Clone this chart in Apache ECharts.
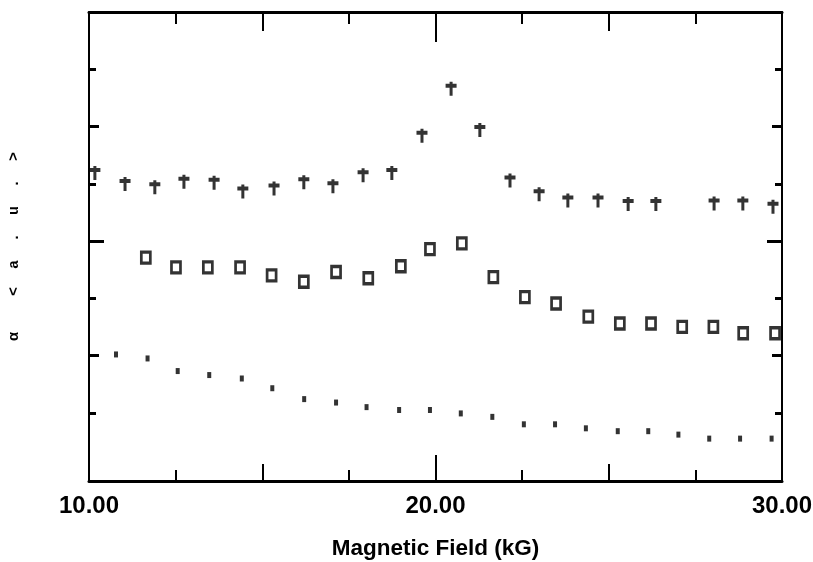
<!DOCTYPE html>
<html>
<head>
<meta charset="utf-8">
<script src="https://cdn.jsdelivr.net/npm/echarts@6/dist/echarts.min.js"></script>
<style>html,body{margin:0;padding:0;background:#fff;}#chart{width:813px;height:562px;}</style>
</head>
<body>
<div id="chart"></div>
<script>
// ---- data (y in arbitrary units, one unit per y tick) ----
var crossX = [10.17, 11.04, 11.90, 12.74, 13.61, 14.44, 15.34, 16.20, 17.04, 17.91, 18.74, 19.61, 20.45, 21.28, 22.15, 22.99, 23.82, 24.69, 25.56, 26.36, 28.04, 28.87, 29.74];
var crossY = [5.24, 5.05, 4.99, 5.09, 5.07, 4.92, 4.97, 5.08, 5.01, 5.20, 5.24, 5.89, 6.71, 5.99, 5.11, 4.87, 4.76, 4.76, 4.70, 4.70, 4.71, 4.71, 4.65];
var squareX = [11.64, 12.51, 13.43, 14.36, 15.27, 16.20, 17.13, 18.06, 19.00, 19.84, 20.76, 21.67, 22.58, 23.48, 24.41, 25.32, 26.22, 27.12, 28.02, 28.88, 29.80];
var squareY = [3.71, 3.54, 3.54, 3.54, 3.40, 3.29, 3.46, 3.35, 3.56, 3.86, 3.96, 3.37, 3.02, 2.91, 2.68, 2.56, 2.56, 2.50, 2.50, 2.39, 2.39];
var dotX = [10.78, 11.69, 12.56, 13.47, 14.41, 15.29, 16.21, 17.13, 18.01, 18.95, 19.84, 20.73, 21.64, 22.55, 23.45, 24.34, 25.26, 26.14, 27.01, 27.90, 28.79, 29.70];
var dotY = [2.02, 1.95, 1.73, 1.66, 1.60, 1.43, 1.24, 1.18, 1.10, 1.05, 1.05, 0.99, 0.93, 0.80, 0.80, 0.73, 0.68, 0.68, 0.62, 0.55, 0.55, 0.55];
var xTitle = 'Magnetic Field (kG)';
var yTitle = 'α    <  a  .  u  .  >';
var xMin = 10, xMax = 30;
var yMin = -0.19, yMax = 8;
var yTicksAll = [1, 2, 3, 4, 5, 6, 7];
var yTicksMid = [2, 6];
var yTicksLong = [4];

function pairs(xs, ys) { return xs.map(function (x, i) { return [x, ys[i]]; }); }

var labelFont = "'Liberation Sans Narrow', 'Liberation Sans', Arial, sans-serif";

function xAx(pos, interval, len, main) {
  return {
    type: 'value', position: pos, min: xMin, max: xMax, interval: interval,
    axisLine: { show: !!main, onZero: false, lineStyle: { color: '#000', width: 3 } },
    axisTick: { show: true, inside: true, length: len, lineStyle: { color: '#000', width: 2 } },
    axisLabel: (main && pos === 'bottom') ? {
      show: true, margin: 13, color: '#000', fontFamily: labelFont, fontWeight: 'bold', fontSize: 24,
      formatter: function (v) { return v.toFixed(2); }
    } : { show: false },
    splitLine: { show: false },
    name: (main && pos === 'bottom') ? xTitle : '',
    nameLocation: 'middle', nameGap: 56,
    nameTextStyle: { color: '#000', fontFamily: labelFont, fontWeight: 'bold', fontSize: 22.5 }
  };
}
function yAx(pos, ticks, len, main) {
  return {
    type: 'value', position: pos, min: yMin, max: yMax,
    axisLine: { show: !!main, onZero: false, lineStyle: { color: '#000', width: 2 } },
    axisTick: { show: true, inside: true, length: len, customValues: ticks, lineStyle: { color: '#000', width: 3 } },
    axisLabel: { show: false },
    splitLine: { show: false },
    name: (main && pos === 'left') ? yTitle : '',
    nameLocation: 'middle', nameRotate: 90, nameGap: 67,
    nameTextStyle: { color: '#000', fontFamily: 'Liberation Mono', fontWeight: 'bold', fontSize: 15 }
  };
}

var chart = echarts.init(document.getElementById('chart'));
chart.setOption({
  animation: false,
  backgroundColor: '#fff',
  grid: { left: 89, right: 31, top: 12, bottom: 81, containLabel: false, outerBoundsMode: 'none' },
  xAxis: [
    xAx('bottom', 10, 26, true), xAx('bottom', 5, 17, false), xAx('bottom', 2.5, 11, false),
    xAx('top', 10, 30, true), xAx('top', 5, 19, false), xAx('top', 2.5, 12, false)
  ],
  yAxis: [
    yAx('left', yTicksAll, 7, true), yAx('left', yTicksMid, 10, false), yAx('left', yTicksLong, 15, false),
    yAx('right', yTicksAll, 7, true), yAx('right', yTicksMid, 10, false), yAx('right', yTicksLong, 15, false)
  ],
  series: [
    {
      type: 'scatter', xAxisIndex: 0, yAxisIndex: 0, data: pairs(crossX, crossY),
      symbol: 'path://M4,0H7V2H11V6H7V14H4V6H0V2H4Z', symbolSize: [11, 14], symbolOffset: [0, 3],
      itemStyle: { color: '#000' }
    },
    {
      type: 'scatter', xAxisIndex: 0, yAxisIndex: 0, data: pairs(squareX, squareY),
      symbol: 'rect', symbolSize: [9, 11],
      itemStyle: { color: '#fff', borderColor: '#000', borderWidth: 3 }
    },
    {
      type: 'scatter', xAxisIndex: 0, yAxisIndex: 0, data: pairs(dotX, dotY),
      symbol: 'rect', symbolSize: [4, 6],
      itemStyle: { color: '#000' }
    }
  ]
});
</script>
</body>
</html>
